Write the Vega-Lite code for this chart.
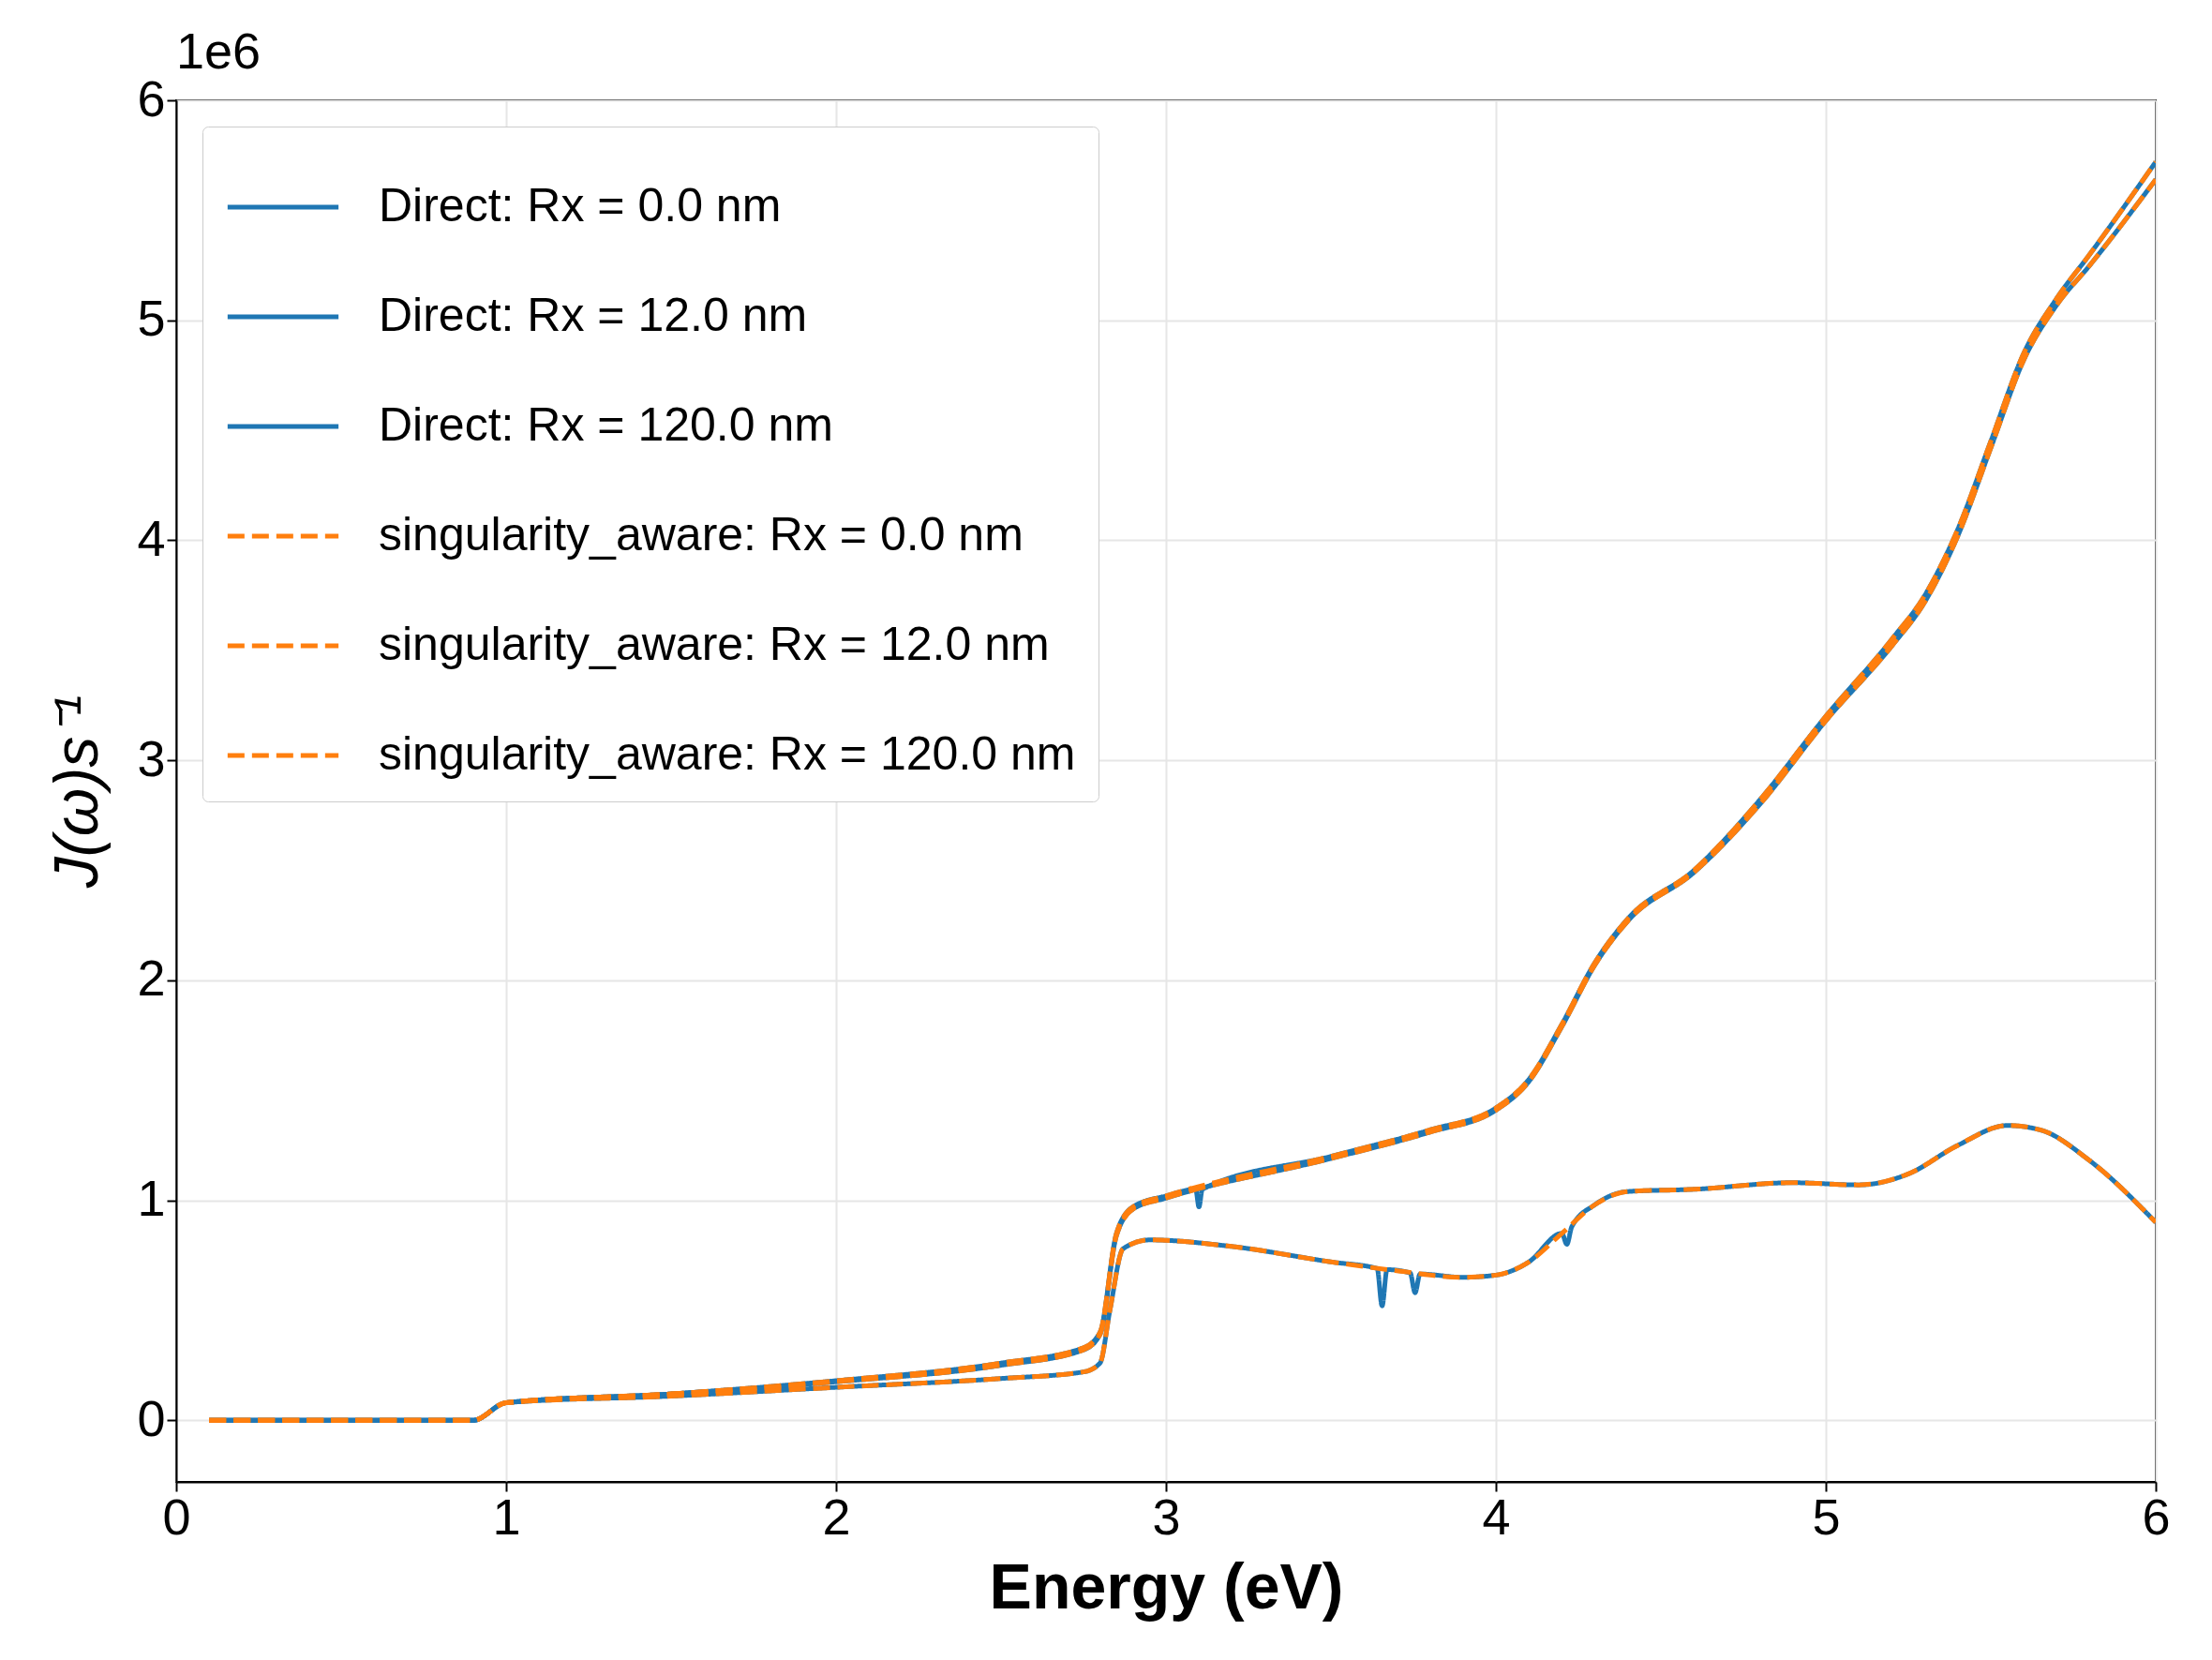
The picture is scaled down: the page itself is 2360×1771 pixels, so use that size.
{
"$schema":"https://vega.github.io/schema/vega-lite/v6.json",
"width":2112,"height":1474,
"background":"white",
"padding":{"left":50,"top":30,"right":30,"bottom":10},
"title":{"text":"1e6","anchor":"start","frame":"group","fontSize":54,"fontWeight":"normal","font":"Liberation Sans","offset":-4},
"data":{"values":[
{"s":"Direct: Rx = 0.0 nm","x":0.1,"y":0},{"s":"Direct: Rx = 0.0 nm","x":0.9,"y":0},{"s":"Direct: Rx = 0.0 nm","x":1.0,"y":0.08},{"s":"Direct: Rx = 0.0 nm","x":1.5,"y":0.12},{"s":"Direct: Rx = 0.0 nm","x":2.0,"y":0.18},{"s":"Direct: Rx = 0.0 nm","x":2.5,"y":0.26},{"s":"Direct: Rx = 0.0 nm","x":2.75,"y":0.33},{"s":"Direct: Rx = 0.0 nm","x":2.8,"y":0.4},{"s":"Direct: Rx = 0.0 nm","x":2.85,"y":0.85},{"s":"Direct: Rx = 0.0 nm","x":2.9,"y":0.97},{"s":"Direct: Rx = 0.0 nm","x":3.0,"y":1.02},{"s":"Direct: Rx = 0.0 nm","x":3.09,"y":1.05},{"s":"Direct: Rx = 0.0 nm","x":3.1,"y":0.97},{"s":"Direct: Rx = 0.0 nm","x":3.11,"y":1.05},{"s":"Direct: Rx = 0.0 nm","x":3.5,"y":1.2},{"s":"Direct: Rx = 0.0 nm","x":3.8,"y":1.32},{"s":"Direct: Rx = 0.0 nm","x":4.0,"y":1.42},{"s":"Direct: Rx = 0.0 nm","x":4.1,"y":1.55},{"s":"Direct: Rx = 0.0 nm","x":4.2,"y":1.8},{"s":"Direct: Rx = 0.0 nm","x":4.3,"y":2.08},{"s":"Direct: Rx = 0.0 nm","x":4.4,"y":2.28},{"s":"Direct: Rx = 0.0 nm","x":4.6,"y":2.5},{"s":"Direct: Rx = 0.0 nm","x":4.8,"y":2.82},{"s":"Direct: Rx = 0.0 nm","x":5.0,"y":3.2},{"s":"Direct: Rx = 0.0 nm","x":5.2,"y":3.55},{"s":"Direct: Rx = 0.0 nm","x":5.3,"y":3.75},{"s":"Direct: Rx = 0.0 nm","x":5.4,"y":4.05},{"s":"Direct: Rx = 0.0 nm","x":5.5,"y":4.45},{"s":"Direct: Rx = 0.0 nm","x":5.6,"y":4.85},{"s":"Direct: Rx = 0.0 nm","x":5.7,"y":5.1},{"s":"Direct: Rx = 0.0 nm","x":5.8,"y":5.3},{"s":"Direct: Rx = 0.0 nm","x":6.0,"y":5.72},

{"s":"Direct: Rx = 12.0 nm","x":0.1,"y":0},{"s":"Direct: Rx = 12.0 nm","x":0.9,"y":0},{"s":"Direct: Rx = 12.0 nm","x":1.0,"y":0.08},{"s":"Direct: Rx = 12.0 nm","x":1.5,"y":0.12},{"s":"Direct: Rx = 12.0 nm","x":2.0,"y":0.175},{"s":"Direct: Rx = 12.0 nm","x":2.5,"y":0.25},{"s":"Direct: Rx = 12.0 nm","x":2.75,"y":0.32},{"s":"Direct: Rx = 12.0 nm","x":2.8,"y":0.39},{"s":"Direct: Rx = 12.0 nm","x":2.85,"y":0.84},{"s":"Direct: Rx = 12.0 nm","x":2.9,"y":0.96},{"s":"Direct: Rx = 12.0 nm","x":3.0,"y":1.01},{"s":"Direct: Rx = 12.0 nm","x":3.5,"y":1.19},{"s":"Direct: Rx = 12.0 nm","x":3.8,"y":1.31},{"s":"Direct: Rx = 12.0 nm","x":4.0,"y":1.41},{"s":"Direct: Rx = 12.0 nm","x":4.1,"y":1.54},{"s":"Direct: Rx = 12.0 nm","x":4.2,"y":1.79},{"s":"Direct: Rx = 12.0 nm","x":4.3,"y":2.07},{"s":"Direct: Rx = 12.0 nm","x":4.4,"y":2.27},{"s":"Direct: Rx = 12.0 nm","x":4.6,"y":2.49},{"s":"Direct: Rx = 12.0 nm","x":4.8,"y":2.8},{"s":"Direct: Rx = 12.0 nm","x":5.0,"y":3.18},{"s":"Direct: Rx = 12.0 nm","x":5.2,"y":3.52},{"s":"Direct: Rx = 12.0 nm","x":5.3,"y":3.72},{"s":"Direct: Rx = 12.0 nm","x":5.4,"y":4.02},{"s":"Direct: Rx = 12.0 nm","x":5.5,"y":4.42},{"s":"Direct: Rx = 12.0 nm","x":5.6,"y":4.82},{"s":"Direct: Rx = 12.0 nm","x":5.7,"y":5.07},{"s":"Direct: Rx = 12.0 nm","x":5.8,"y":5.25},{"s":"Direct: Rx = 12.0 nm","x":6.0,"y":5.64},

{"s":"Direct: Rx = 120.0 nm","x":0.1,"y":0},{"s":"Direct: Rx = 120.0 nm","x":0.9,"y":0},{"s":"Direct: Rx = 120.0 nm","x":1.0,"y":0.08},{"s":"Direct: Rx = 120.0 nm","x":1.5,"y":0.11},{"s":"Direct: Rx = 120.0 nm","x":2.0,"y":0.15},{"s":"Direct: Rx = 120.0 nm","x":2.5,"y":0.19},{"s":"Direct: Rx = 120.0 nm","x":2.75,"y":0.22},{"s":"Direct: Rx = 120.0 nm","x":2.8,"y":0.26},{"s":"Direct: Rx = 120.0 nm","x":2.83,"y":0.5},{"s":"Direct: Rx = 120.0 nm","x":2.87,"y":0.78},{"s":"Direct: Rx = 120.0 nm","x":2.95,"y":0.82},{"s":"Direct: Rx = 120.0 nm","x":3.2,"y":0.79},{"s":"Direct: Rx = 120.0 nm","x":3.5,"y":0.72},{"s":"Direct: Rx = 120.0 nm","x":3.64,"y":0.69},{"s":"Direct: Rx = 120.0 nm","x":3.655,"y":0.52},{"s":"Direct: Rx = 120.0 nm","x":3.67,"y":0.685},{"s":"Direct: Rx = 120.0 nm","x":3.74,"y":0.67},{"s":"Direct: Rx = 120.0 nm","x":3.755,"y":0.58},{"s":"Direct: Rx = 120.0 nm","x":3.77,"y":0.665},{"s":"Direct: Rx = 120.0 nm","x":3.9,"y":0.65},{"s":"Direct: Rx = 120.0 nm","x":4.0,"y":0.66},{"s":"Direct: Rx = 120.0 nm","x":4.1,"y":0.72},{"s":"Direct: Rx = 120.0 nm","x":4.2,"y":0.85},{"s":"Direct: Rx = 120.0 nm","x":4.215,"y":0.8},{"s":"Direct: Rx = 120.0 nm","x":4.23,"y":0.88},{"s":"Direct: Rx = 120.0 nm","x":4.3,"y":0.98},{"s":"Direct: Rx = 120.0 nm","x":4.4,"y":1.04},{"s":"Direct: Rx = 120.0 nm","x":4.6,"y":1.05},{"s":"Direct: Rx = 120.0 nm","x":4.9,"y":1.08},{"s":"Direct: Rx = 120.0 nm","x":5.1,"y":1.07},{"s":"Direct: Rx = 120.0 nm","x":5.25,"y":1.12},{"s":"Direct: Rx = 120.0 nm","x":5.4,"y":1.25},{"s":"Direct: Rx = 120.0 nm","x":5.55,"y":1.34},{"s":"Direct: Rx = 120.0 nm","x":5.65,"y":1.32},{"s":"Direct: Rx = 120.0 nm","x":5.8,"y":1.18},{"s":"Direct: Rx = 120.0 nm","x":6.0,"y":0.9},

{"s":"singularity_aware: Rx = 0.0 nm","x":0.1,"y":0},{"s":"singularity_aware: Rx = 0.0 nm","x":0.9,"y":0},{"s":"singularity_aware: Rx = 0.0 nm","x":1.0,"y":0.08},{"s":"singularity_aware: Rx = 0.0 nm","x":1.5,"y":0.12},{"s":"singularity_aware: Rx = 0.0 nm","x":2.0,"y":0.18},{"s":"singularity_aware: Rx = 0.0 nm","x":2.5,"y":0.26},{"s":"singularity_aware: Rx = 0.0 nm","x":2.75,"y":0.33},{"s":"singularity_aware: Rx = 0.0 nm","x":2.8,"y":0.4},{"s":"singularity_aware: Rx = 0.0 nm","x":2.85,"y":0.85},{"s":"singularity_aware: Rx = 0.0 nm","x":2.9,"y":0.97},{"s":"singularity_aware: Rx = 0.0 nm","x":3.0,"y":1.02},{"s":"singularity_aware: Rx = 0.0 nm","x":3.5,"y":1.2},{"s":"singularity_aware: Rx = 0.0 nm","x":3.8,"y":1.32},{"s":"singularity_aware: Rx = 0.0 nm","x":4.0,"y":1.42},{"s":"singularity_aware: Rx = 0.0 nm","x":4.1,"y":1.55},{"s":"singularity_aware: Rx = 0.0 nm","x":4.2,"y":1.8},{"s":"singularity_aware: Rx = 0.0 nm","x":4.3,"y":2.08},{"s":"singularity_aware: Rx = 0.0 nm","x":4.4,"y":2.28},{"s":"singularity_aware: Rx = 0.0 nm","x":4.6,"y":2.5},{"s":"singularity_aware: Rx = 0.0 nm","x":4.8,"y":2.82},{"s":"singularity_aware: Rx = 0.0 nm","x":5.0,"y":3.2},{"s":"singularity_aware: Rx = 0.0 nm","x":5.2,"y":3.55},{"s":"singularity_aware: Rx = 0.0 nm","x":5.3,"y":3.75},{"s":"singularity_aware: Rx = 0.0 nm","x":5.4,"y":4.05},{"s":"singularity_aware: Rx = 0.0 nm","x":5.5,"y":4.45},{"s":"singularity_aware: Rx = 0.0 nm","x":5.6,"y":4.85},{"s":"singularity_aware: Rx = 0.0 nm","x":5.7,"y":5.1},{"s":"singularity_aware: Rx = 0.0 nm","x":5.8,"y":5.3},{"s":"singularity_aware: Rx = 0.0 nm","x":6.0,"y":5.72},

{"s":"singularity_aware: Rx = 12.0 nm","x":0.1,"y":0},{"s":"singularity_aware: Rx = 12.0 nm","x":0.9,"y":0},{"s":"singularity_aware: Rx = 12.0 nm","x":1.0,"y":0.08},{"s":"singularity_aware: Rx = 12.0 nm","x":1.5,"y":0.12},{"s":"singularity_aware: Rx = 12.0 nm","x":2.0,"y":0.175},{"s":"singularity_aware: Rx = 12.0 nm","x":2.5,"y":0.25},{"s":"singularity_aware: Rx = 12.0 nm","x":2.75,"y":0.32},{"s":"singularity_aware: Rx = 12.0 nm","x":2.8,"y":0.39},{"s":"singularity_aware: Rx = 12.0 nm","x":2.85,"y":0.84},{"s":"singularity_aware: Rx = 12.0 nm","x":2.9,"y":0.96},{"s":"singularity_aware: Rx = 12.0 nm","x":3.0,"y":1.01},{"s":"singularity_aware: Rx = 12.0 nm","x":3.5,"y":1.19},{"s":"singularity_aware: Rx = 12.0 nm","x":3.8,"y":1.31},{"s":"singularity_aware: Rx = 12.0 nm","x":4.0,"y":1.41},{"s":"singularity_aware: Rx = 12.0 nm","x":4.1,"y":1.54},{"s":"singularity_aware: Rx = 12.0 nm","x":4.2,"y":1.79},{"s":"singularity_aware: Rx = 12.0 nm","x":4.3,"y":2.07},{"s":"singularity_aware: Rx = 12.0 nm","x":4.4,"y":2.27},{"s":"singularity_aware: Rx = 12.0 nm","x":4.6,"y":2.49},{"s":"singularity_aware: Rx = 12.0 nm","x":4.8,"y":2.8},{"s":"singularity_aware: Rx = 12.0 nm","x":5.0,"y":3.18},{"s":"singularity_aware: Rx = 12.0 nm","x":5.2,"y":3.52},{"s":"singularity_aware: Rx = 12.0 nm","x":5.3,"y":3.72},{"s":"singularity_aware: Rx = 12.0 nm","x":5.4,"y":4.02},{"s":"singularity_aware: Rx = 12.0 nm","x":5.5,"y":4.42},{"s":"singularity_aware: Rx = 12.0 nm","x":5.6,"y":4.82},{"s":"singularity_aware: Rx = 12.0 nm","x":5.7,"y":5.07},{"s":"singularity_aware: Rx = 12.0 nm","x":5.8,"y":5.25},{"s":"singularity_aware: Rx = 12.0 nm","x":6.0,"y":5.64},

{"s":"singularity_aware: Rx = 120.0 nm","x":0.1,"y":0},{"s":"singularity_aware: Rx = 120.0 nm","x":0.9,"y":0},{"s":"singularity_aware: Rx = 120.0 nm","x":1.0,"y":0.08},{"s":"singularity_aware: Rx = 120.0 nm","x":1.5,"y":0.11},{"s":"singularity_aware: Rx = 120.0 nm","x":2.0,"y":0.15},{"s":"singularity_aware: Rx = 120.0 nm","x":2.5,"y":0.19},{"s":"singularity_aware: Rx = 120.0 nm","x":2.75,"y":0.22},{"s":"singularity_aware: Rx = 120.0 nm","x":2.8,"y":0.26},{"s":"singularity_aware: Rx = 120.0 nm","x":2.83,"y":0.5},{"s":"singularity_aware: Rx = 120.0 nm","x":2.87,"y":0.78},{"s":"singularity_aware: Rx = 120.0 nm","x":2.95,"y":0.82},{"s":"singularity_aware: Rx = 120.0 nm","x":3.2,"y":0.79},{"s":"singularity_aware: Rx = 120.0 nm","x":3.5,"y":0.72},{"s":"singularity_aware: Rx = 120.0 nm","x":3.7,"y":0.68},{"s":"singularity_aware: Rx = 120.0 nm","x":3.9,"y":0.65},{"s":"singularity_aware: Rx = 120.0 nm","x":4.0,"y":0.66},{"s":"singularity_aware: Rx = 120.0 nm","x":4.1,"y":0.72},{"s":"singularity_aware: Rx = 120.0 nm","x":4.2,"y":0.85},{"s":"singularity_aware: Rx = 120.0 nm","x":4.3,"y":0.98},{"s":"singularity_aware: Rx = 120.0 nm","x":4.4,"y":1.04},{"s":"singularity_aware: Rx = 120.0 nm","x":4.6,"y":1.05},{"s":"singularity_aware: Rx = 120.0 nm","x":4.9,"y":1.08},{"s":"singularity_aware: Rx = 120.0 nm","x":5.1,"y":1.07},{"s":"singularity_aware: Rx = 120.0 nm","x":5.25,"y":1.12},{"s":"singularity_aware: Rx = 120.0 nm","x":5.4,"y":1.25},{"s":"singularity_aware: Rx = 120.0 nm","x":5.55,"y":1.34},{"s":"singularity_aware: Rx = 120.0 nm","x":5.65,"y":1.32},{"s":"singularity_aware: Rx = 120.0 nm","x":5.8,"y":1.18},{"s":"singularity_aware: Rx = 120.0 nm","x":6.0,"y":0.9}
]},
"mark":{"type":"line","strokeWidth":5,"interpolate":"monotone","clip":true},
"encoding":{
"x":{"field":"x","type":"quantitative","scale":{"domain":[0,6],"nice":false},"axis":{"title":"Energy (eV)","values":[0,1,2,3,4,5,6],"titleFontSize":68,"titleFontWeight":"bold","labelFontSize":54,"titlePadding":14,"labelFlush":false}},
"y":{"field":"y","type":"quantitative","scale":{"domain":[-0.28,6],"nice":false},"axis":{"title":"J(ω)s⁻¹","values":[0,1,2,3,4,5,6],"titleFontSize":66,"titleFontStyle":"italic","titleFontWeight":"normal","labelFontSize":54,"titlePadding":28,"labelFlush":false}},
"color":{"field":"s","type":"nominal","sort":null,"scale":{"domain":["Direct: Rx = 0.0 nm","Direct: Rx = 12.0 nm","Direct: Rx = 120.0 nm","singularity_aware: Rx = 0.0 nm","singularity_aware: Rx = 12.0 nm","singularity_aware: Rx = 120.0 nm"],"range":["#1f77b4","#1f77b4","#1f77b4","#ff7f0e","#ff7f0e","#ff7f0e"]},"legend":{"title":null}},
"strokeDash":{"field":"s","type":"nominal","sort":null,"scale":{"domain":["Direct: Rx = 0.0 nm","Direct: Rx = 12.0 nm","Direct: Rx = 120.0 nm","singularity_aware: Rx = 0.0 nm","singularity_aware: Rx = 12.0 nm","singularity_aware: Rx = 120.0 nm"],"range":[[1,0],[1,0],[1,0],[18,8],[18,8],[18,8]]},"legend":{"title":null}}
},
"config":{
"font":"Liberation Sans",
"view":{"stroke":"black","strokeWidth":2},
"axis":{"grid":true,"gridColor":"#e6e6e6","gridWidth":2,"domainColor":"black","domainWidth":2,"tickColor":"black","tickWidth":2,"tickSize":10,"labelColor":"black","titleColor":"black","labelFont":"Liberation Sans","titleFont":"Liberation Sans"},
"legend":{"orient":"top-left","offset":28,"fillColor":"white","strokeColor":"#cccccc","padding":24,"cornerRadius":6,"labelFontSize":50,"labelFont":"Liberation Sans","labelColor":"black","symbolType":"stroke","symbolSize":14000,"symbolStrokeWidth":5,"rowPadding":30,"labelOffset":40,"labelLimit":1400}
}
}
